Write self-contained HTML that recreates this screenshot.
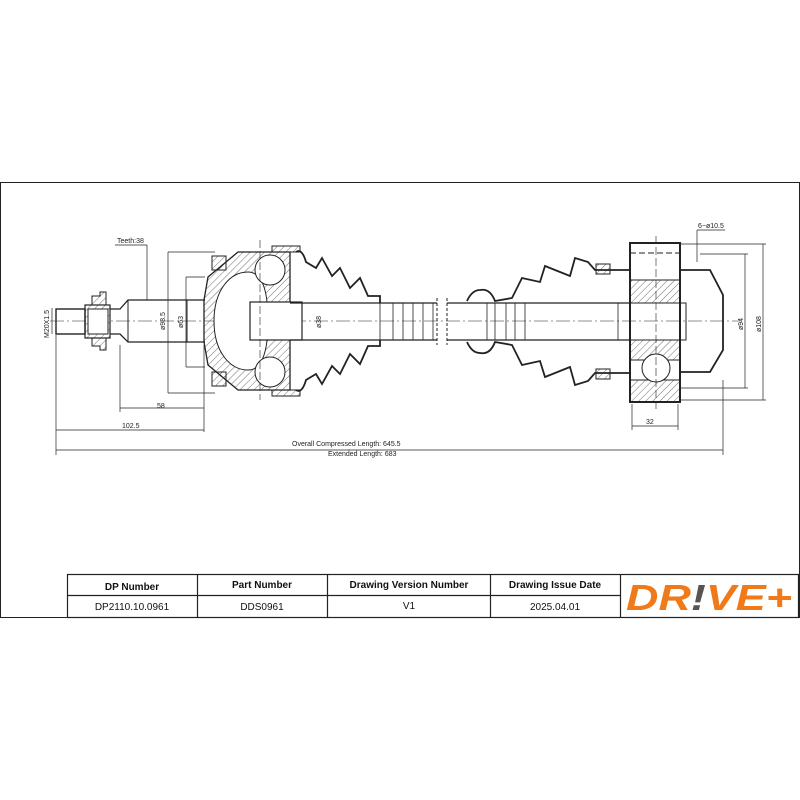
<!DOCTYPE html>
<html><head><meta charset="utf-8"><style>
html,body{margin:0;padding:0;background:#fff;width:800px;height:800px;overflow:hidden}
svg{display:block}
text{font-family:"Liberation Sans",sans-serif}
</style></head><body>
<svg width="800" height="800" viewBox="0 0 800 800" xmlns="http://www.w3.org/2000/svg">
<defs>
<pattern id="h" width="5" height="5" patternUnits="userSpaceOnUse" patternTransform="rotate(45)">
<line x1="0" y1="0" x2="0" y2="5" stroke="#333" stroke-width="0.7"/></pattern>
</defs>
<rect x="0.5" y="182.5" width="799" height="435" fill="none" stroke="#222" stroke-width="1"/>
<g stroke="#222" fill="none" stroke-width="1">
<line x1="50" y1="321" x2="740" y2="321" stroke-dasharray="14,3,2,3" stroke-width="0.6"/>
<rect x="56" y="309" width="29" height="25" stroke-width="1.4"/>
<rect x="85" y="305" width="25" height="33" fill="url(#h)" stroke-width="1.2"/>
<rect x="88" y="309" width="20" height="25" fill="#fff"/>
<path d="M92 305 V296 H100 V292 H106 V305 M92 338 V346 H100 V350 H106 V338" fill="url(#h)"/>
<path d="M110 309 H120 L128 300 H205 M110 334 H120 L128 342 H205" stroke-width="1.3"/>
<line x1="128" y1="300" x2="128" y2="342"/>
<line x1="187" y1="300" x2="187" y2="342"/>
<path d="M204 300 L208 277 L238 252 H290 V390 H238 L208 365 L204 342 Z" fill="url(#h)" stroke-width="1.3"/>
<path d="M214 321 C214 290 230 272 248 272 C262 272 268 290 268 321 C268 352 262 370 248 370 C230 370 214 352 214 321Z" fill="#fff"/>
<circle cx="270" cy="270" r="15" fill="#fff"/><circle cx="270" cy="372" r="15" fill="#fff"/>
<rect x="250" y="302" width="52" height="38" fill="#fff" stroke-width="1.2"/>
<path d="M212 256 H226 V270 H212Z M212 372 H226 V386 H212Z" fill="url(#h)"/>
<path d="M272 246 H300 V252 H272Z M272 390 H300 V396 H272Z" fill="url(#h)"/>
<path d="M290 303 H437 M290 340 H437" stroke-width="1.3"/>
<line x1="302" y1="303" x2="302" y2="340"/>
<g stroke-width="0.8"><line x1="380" y1="303" x2="380" y2="340"/><line x1="393" y1="303" x2="393" y2="340"/><line x1="403" y1="303" x2="403" y2="340"/><line x1="413" y1="303" x2="413" y2="340"/><line x1="423" y1="303" x2="423" y2="340"/><line x1="433" y1="303" x2="433" y2="340"/></g>
<path d="M296 252 Q302 248 306 262 L316 268 L322 258 L332 276 L340 268 L350 288 L360 278 L368 296 L380 296 V303" stroke-width="1.8"/>
<path d="M296 390 Q302 394 306 380 L316 374 L322 384 L332 366 L340 374 L350 354 L360 364 L368 346 L380 346 V340" stroke-width="1.8"/>
<line x1="437" y1="298" x2="437" y2="345" stroke-dasharray="3,2"/>
<line x1="447" y1="298" x2="447" y2="345" stroke-dasharray="3,2"/>
<path d="M447 303 H630 M447 340 H630" stroke-width="1.3"/>
<g stroke-width="0.8"><line x1="487" y1="303" x2="487" y2="340"/><line x1="495" y1="303" x2="495" y2="340"/><line x1="506" y1="303" x2="506" y2="340"/><line x1="515" y1="303" x2="515" y2="340"/><line x1="525" y1="303" x2="525" y2="340"/><line x1="618" y1="303" x2="618" y2="340"/></g>
<path d="M467 301 Q472 290 480 290 Q490 288 495 301 L512 298 L522 278 L540 282 L545 266 L570 276 L575 258 L588 262 L595 270 L612 270 V270 H630" stroke-width="1.8"/>
<path d="M467 342 Q472 353 480 353 Q490 355 495 342 L512 345 L522 365 L540 361 L545 377 L570 367 L575 385 L588 381 L595 373 L612 373 H630" stroke-width="1.8"/>
<rect x="596" y="264" width="14" height="10" fill="url(#h)"/><rect x="596" y="369" width="14" height="10" fill="url(#h)"/>
<rect x="630" y="243" width="50" height="159" stroke-width="2"/>
<path d="M630 280 H680 V303 H630Z M630 340 H680 V360 H630Z M630 380 H680 V402 H630Z" fill="url(#h)"/>
<circle cx="656" cy="368" r="14" fill="#fff"/>
<line x1="630" y1="253" x2="680" y2="253" stroke-dasharray="6,3"/>
<path d="M680 270 H710 L723 295 V350 L710 372 H680" stroke-width="1.8"/>
<rect x="680" y="303" width="6" height="37"/>
<line x1="656" y1="236" x2="656" y2="410" stroke-width="0.6" stroke-dasharray="8,3"/>
<line x1="260" y1="240" x2="260" y2="400" stroke-width="0.6" stroke-dasharray="8,3"/>
<g stroke-width="0.7">
<line x1="147" y1="245" x2="147" y2="300"/><line x1="115" y1="245" x2="147" y2="245"/>
<line x1="168" y1="252" x2="168" y2="393"/><line x1="168" y1="252" x2="215" y2="252"/><line x1="168" y1="393" x2="215" y2="393"/>
<line x1="186" y1="277" x2="186" y2="367"/><line x1="186" y1="277" x2="205" y2="277"/><line x1="186" y1="367" x2="205" y2="367"/>
<line x1="52" y1="308" x2="52" y2="334"/>
<line x1="120" y1="345" x2="120" y2="412"/><line x1="204" y1="345" x2="204" y2="432"/>
<line x1="120" y1="408" x2="204" y2="408"/>
<line x1="56" y1="335" x2="56" y2="455"/><line x1="56" y1="430" x2="204" y2="430"/>
<line x1="56" y1="450" x2="723" y2="450"/><line x1="723" y1="380" x2="723" y2="455"/>
<line x1="632" y1="404" x2="632" y2="430"/><line x1="678" y1="404" x2="678" y2="430"/><line x1="632" y1="426" x2="678" y2="426"/>
<line x1="680" y1="244" x2="766" y2="244"/><line x1="680" y1="400" x2="766" y2="400"/><line x1="763" y1="244" x2="763" y2="400"/>
<line x1="700" y1="254" x2="748" y2="254"/><line x1="680" y1="388" x2="748" y2="388"/><line x1="745" y1="254" x2="745" y2="388"/>
<line x1="697" y1="230" x2="697" y2="262"/><line x1="697" y1="230" x2="725" y2="230"/>
</g>
</g>
<g font-size="7" fill="#222">
<text x="117" y="243">Teeth:38</text>
<text x="157" y="408">58</text>
<text x="122" y="428">102.5</text>
<text x="292" y="446">Overall  Compressed  Length: 645.5</text>
<text x="328" y="456">Extended  Length: 683</text>
<text x="646" y="424">32</text>
<text x="698" y="228">6−ø10.5</text>
<text transform="translate(49,338) rotate(-90)">M20X1.5</text>
<text transform="translate(165,330) rotate(-90)">ø98.5</text>
<text transform="translate(183,328) rotate(-90)">ø63</text>
<text transform="translate(321,328) rotate(-90)">ø38</text>
<text transform="translate(743,330) rotate(-90)">ø94</text>
<text transform="translate(761,332) rotate(-90)">ø108</text>
</g>
<g stroke="#222" stroke-width="1.2" fill="none">
<rect x="67.5" y="574.5" width="731" height="43"/>
<line x1="67" y1="595.5" x2="620" y2="595.5"/>
<line x1="197.5" y1="574" x2="197.5" y2="617"/>
<line x1="327.5" y1="574" x2="327.5" y2="617"/>
<line x1="490.5" y1="574" x2="490.5" y2="617"/>
<line x1="620.5" y1="574" x2="620.5" y2="617"/>
</g>
<g font-size="10" fill="#111" text-anchor="middle">
<text x="132" y="590" font-weight="bold">DP Number</text>
<text x="262" y="588" font-weight="bold">Part Number</text>
<text x="409" y="588" font-weight="bold">Drawing Version Number</text>
<text x="555" y="588" font-weight="bold">Drawing Issue Date</text>
<text x="132" y="610">DP2110.10.0961</text>
<text x="262" y="610">DDS0961</text>
<text x="409" y="609">V1</text>
<text x="555" y="610">2025.04.01</text>
</g>
<text x="0" y="0" font-size="34" font-weight="bold" font-style="italic" fill="#f07a1a" textLength="166" lengthAdjust="spacingAndGlyphs" transform="translate(626,610) scale(1,1.05)">DR<tspan fill="#555">!</tspan>VE+</text>
</svg>
</body></html>
